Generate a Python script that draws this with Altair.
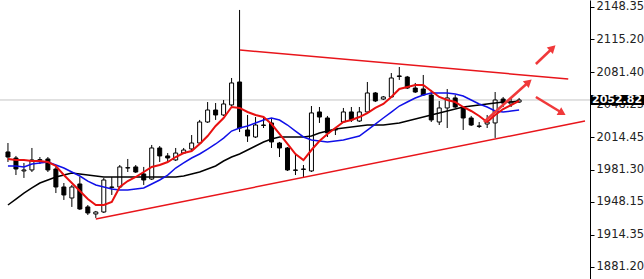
import math
import altair as alt
import pandas as pd

# ---- daily candles (oldest first) ----
opens = [1999.4, 1993.2, 1979.9, 1980.9, 1991.0, 1992.2, 1981.9, 1963.4, 1952.1, 1966.5,
         1942.9, 1935.7, 1937.7, 1963.4, 1963.4, 1982.9, 1984.0, 1976.8, 1971.6, 2003.5,
         1995.3, 1991.2, 1998.3, 2002.5, 2008.6, 2030.2, 2042.5, 2037.4, 2047.7, 2071.3,
         2022.0, 2014.8, 2027.1, 2029.2, 2008.6, 2003.5, 1980.9, 1981.9, 1979.9, 2040.5,
         2034.3, 2022.0, 2030.2, 2040.5, 2031.2, 2040.5, 2060.0, 2053.8, 2055.9, 2077.5,
         2076.4, 2065.1, 2064.1, 2057.9, 2030.2, 2044.6, 2054.9, 2045.6, 2034.3, 2026.1,
         2028.1, 2029.2, 2053.8, 2048.7, 2050.7]
highs = [2008.6, 1995.3, 1988.1, 2003.5, 1994.2, 1994.2, 1984.0, 1967.5, 1965.5, 1973.7,
         1944.9, 1938.8, 1972.7, 1973.7, 1986.0, 1992.2, 1986.0, 1984.0, 2006.6, 2005.5,
         1998.3, 2003.5, 2003.5, 2016.8, 2032.3, 2050.7, 2049.7, 2052.8, 2075.4, 2145.3,
         2037.4, 2035.3, 2034.3, 2034.3, 2009.7, 2004.5, 1996.3, 1986.0, 2046.6, 2045.6,
         2036.4, 2025.1, 2044.6, 2045.6, 2045.6, 2071.3, 2061.0, 2056.9, 2080.5, 2086.7,
         2077.5, 2070.3, 2078.5, 2063.1, 2051.8, 2064.1, 2057.9, 2046.6, 2036.4, 2030.2,
         2037.4, 2061.0, 2055.9, 2054.9, 2054.9]
lows = [1989.1, 1975.7, 1972.7, 1978.8, 1987.0, 1978.8, 1957.2, 1950.1, 1942.9, 1939.8,
        1934.6, 1931.6, 1936.7, 1955.2, 1962.4, 1978.8, 1977.8, 1965.5, 1970.6, 1989.1,
        1989.1, 1990.1, 1997.3, 2001.4, 2007.6, 2029.2, 2032.3, 2036.4, 2046.6, 2019.9,
        2009.7, 2013.8, 2024.0, 2003.5, 1994.2, 1979.9, 1975.7, 1973.7, 1978.8, 2029.2,
        2014.8, 2016.8, 2029.2, 2030.2, 2030.2, 2039.5, 2050.7, 2052.8, 2054.9, 2073.4,
        2064.1, 2060.0, 2056.9, 2030.2, 2027.1, 2024.0, 2044.6, 2022.0, 2026.1, 2024.0,
        2024.0, 2013.8, 2045.6, 2045.6, 2049.7]
closes = [1994.2, 1981.9, 1980.9, 1991.2, 1991.5, 1980.9, 1963.4, 1955.2, 1963.4, 1940.8,
          1936.7, 1937.7, 1970.6, 1963.0, 1984.0, 1983.3, 1978.8, 1970.6, 2003.5, 1995.3,
          1993.2, 1998.3, 2001.4, 2008.6, 2030.2, 2042.5, 2037.4, 2048.7, 2070.3, 2024.0,
          2015.8, 2027.1, 2026.7, 2009.7, 2003.5, 1980.9, 1980.5, 1981.5, 2039.5, 2035.3,
          2018.9, 2022.4, 2040.5, 2032.3, 2040.5, 2060.0, 2051.8, 2055.9, 2075.4, 2077.0,
          2065.1, 2061.0, 2057.9, 2032.3, 2044.6, 2054.9, 2045.6, 2034.3, 2027.1, 2025.7,
          2030.2, 2052.8, 2049.7, 2050.7, 2052.82]

# ---- moving averages as plotted ----
ma_fast = [1992.1, 1991.1, 1991.1, 1990.1, 1990.1, 1989.1, 1985.0, 1975.7, 1967.5, 1959.3,
           1951.0, 1944.9, 1944.9, 1948.0, 1963.4, 1969.5, 1973.7, 1978.8, 1984.0, 1986.0,
           1989.1, 1994.2, 1998.3, 2000.4, 2007.6, 2015.8, 2026.1, 2034.3, 2045.6, 2044.6,
           2040.5, 2037.4, 2035.3, 2028.1, 2017.9, 2007.6, 1997.3, 1991.1, 2001.4, 2010.6,
           2017.9, 2024.0, 2030.2, 2032.2, 2035.3, 2039.4, 2044.6, 2048.7, 2055.9, 2064.1,
           2066.1, 2068.2, 2068.2, 2062.0, 2055.9, 2052.8, 2050.7, 2045.6, 2041.5, 2036.4,
           2030.2, 2037.4, 2043.5, 2047.6, 2051.8]
ma_mid = [1985.0, 1985.0, 1984.0, 1987.0, 1988.1, 1989.1, 1986.0, 1982.9, 1978.8, 1974.7,
          1969.5, 1965.5, 1963.4, 1961.4, 1960.3, 1960.3, 1961.4, 1962.4, 1966.5, 1970.6,
          1975.7, 1982.9, 1988.1, 1993.2, 1997.3, 2002.4, 2007.6, 2013.7, 2020.9, 2024.0,
          2026.1, 2029.1, 2032.2, 2034.3, 2032.2, 2027.1, 2020.9, 2014.8, 2011.7, 2010.6,
          2009.6, 2010.6, 2011.7, 2013.7, 2015.8, 2021.9, 2028.1, 2034.3, 2040.4, 2046.6,
          2050.7, 2054.8, 2057.9, 2060.0, 2060.0, 2060.0, 2059.0, 2056.9, 2052.8, 2048.7,
          2045.6, 2041.5, 2040.4, 2041.5, 2042.5]
ma_slow = [1944.9, 1951.0, 1957.2, 1962.4, 1967.5, 1970.6, 1973.7, 1975.7, 1977.8, 1976.7,
           1975.7, 1974.7, 1973.7, 1973.7, 1973.7, 1973.7, 1973.7, 1973.7, 1973.7, 1973.7,
           1973.7, 1973.7, 1974.7, 1976.7, 1978.8, 1981.9, 1985.0, 1990.1, 1994.2, 1997.3,
           2001.4, 2005.5, 2009.6, 2012.7, 2014.8, 2014.8, 2014.8, 2014.8, 2015.8, 2018.9,
           2020.9, 2023.0, 2024.0, 2025.0, 2026.1, 2027.1, 2027.1, 2027.1, 2028.1, 2029.1,
           2031.2, 2033.2, 2035.3, 2037.4, 2039.4, 2041.5, 2043.5, 2045.6, 2046.6, 2047.6,
           2048.7, 2049.7, 2050.7, 2050.7, 2051.8]

# ---- price axis and last price ----
tick_values = [2148.35, 2115.20, 2081.40, 2048.25, 2014.45, 1981.30, 1948.15, 1914.35, 1881.20]
last_price = 2052.82

# ---- drawn trend lines: (bar index, price) endpoints ----
trend_i0 = [11.0, 29.05]
trend_p0 = [1930.5, 2104.2]
trend_i1 = [72.25, 70.15]
trend_p1 = [2031.2, 2074.4]

# ---- scenario arrows: start and tip ----
arrow_i0 = [66.1, 59.6, 66.1]
arrow_p0 = [2089.8, 2030.2, 2055.9]
arrow_i1 = [68.2, 65.2, 69.4]
arrow_p1 = [2106.2, 2071.3, 2039.4]

W, H = 590, 279
RIGHT_PAD = 54
X_DOM = [-0.37, 72.25]
Y_DOM = [1868.87, 2155.54]

n = len(opens)
candles = pd.DataFrame({
    "i": list(range(n)), "open": opens, "high": highs, "low": lows, "close": closes,
})
candles["up"] = candles["close"] >= candles["open"]

ma = pd.DataFrame({"i": list(range(n)), "fast": ma_fast, "mid": ma_mid, "slow": ma_slow})

trend_rows = []
for k in range(len(trend_i0)):
    trend_rows.append({"seg": k, "i": trend_i0[k], "v": trend_p0[k]})
    trend_rows.append({"seg": k, "i": trend_i1[k], "v": trend_p1[k]})
trend = pd.DataFrame(trend_rows)

px_per_i = W / (X_DOM[1] - X_DOM[0])
px_per_p = H / (Y_DOM[1] - Y_DOM[0])
arrow_rows, head_rows = [], []
for k in range(len(arrow_i0)):
    arrow_rows.append({"seg": k, "i": arrow_i0[k], "v": arrow_p0[k]})
    arrow_rows.append({"seg": k, "i": arrow_i1[k], "v": arrow_p1[k]})
    dx = (arrow_i1[k] - arrow_i0[k]) * px_per_i
    dy_up = (arrow_p1[k] - arrow_p0[k]) * px_per_p
    ang = math.degrees(math.atan2(dx, dy_up)) % 360
    head_rows.append({"i": arrow_i1[k], "v": arrow_p1[k], "ang": ang})
arrows = pd.DataFrame(arrow_rows)
heads = pd.DataFrame(head_rows)

last = pd.DataFrame({"v": [last_price], "lo": [last_price - 5.2], "hi": [last_price + 5.2],
                     "label": [f"{last_price:.2f}"]})

xscale = alt.Scale(domain=X_DOM, nice=False, zero=False)
yscale = alt.Scale(domain=Y_DOM, nice=False, zero=False)
yaxis = alt.Axis(
    orient="right", values=tick_values, format=".2f", grid=False, title=None,
    domainColor="#000000", domainWidth=1, tickColor="#000000", tickSize=4,
    labelPadding=2, labelFont="DejaVu Sans", labelFontSize=11.5, labelColor="#222222",
    labelFlush=False, labelOverlap=False,
)


def X(field="i"):
    return alt.X(f"{field}:Q", scale=xscale, axis=None)


def Y(field):
    return alt.Y(f"{field}:Q", scale=yscale, axis=yaxis)


price_line = alt.Chart(last).mark_rule(color="#c4c4c4", strokeWidth=1).encode(y=Y("v"))

wicks = alt.Chart(candles).mark_rule(color="#000000", strokeWidth=1).encode(
    x=X(), y=Y("low"), y2="high:Q"
)
bodies = alt.Chart(candles).mark_bar(size=4, stroke="#000000", strokeWidth=1).encode(
    x=X(), y=Y("open"), y2="close:Q",
    fill=alt.Fill("up:N", scale=alt.Scale(domain=[True, False], range=["#ffffff", "#000000"]),
                  legend=None),
)

slow_line = alt.Chart(ma).mark_line(color="#000000", strokeWidth=1.5).encode(x=X(), y=Y("slow"))
mid_line = alt.Chart(ma).mark_line(color="#1010e8", strokeWidth=1.5).encode(x=X(), y=Y("mid"))
fast_line = alt.Chart(ma).mark_line(color="#e81010", strokeWidth=2).encode(x=X(), y=Y("fast"))

trend_lines = alt.Chart(trend).mark_line(color="#e8151b", strokeWidth=1.5).encode(
    x=X(), y=Y("v"), detail="seg:N"
)
arrow_lines = alt.Chart(arrows).mark_line(color="#f0393a", strokeWidth=2.5).encode(
    x=X(), y=Y("v"), detail="seg:N"
)
arrow_heads = alt.Chart(heads).mark_point(
    shape="triangle-up", filled=True, color="#f0393a", size=80, opacity=1
).encode(x=X(), y=Y("v"), angle=alt.Angle("ang:Q", scale=None))

label_box = alt.Chart(last).mark_rect(color="#000000").encode(
    x=alt.value(W + 1), x2=alt.value(W + RIGHT_PAD + 2), y=Y("lo"), y2="hi:Q"
)
label_text = alt.Chart(last).mark_text(
    align="left", baseline="middle", color="#ffffff", font="DejaVu Sans",
    fontSize=11, fontWeight="bold"
).encode(x=alt.value(W + 2), y=Y("v"), text="label:N")

chart = alt.layer(
    price_line, wicks, bodies, slow_line, mid_line, fast_line,
    trend_lines, arrow_lines, arrow_heads, label_box, label_text,
).properties(
    width=W, height=H,
    padding={"left": 0, "top": 0, "right": RIGHT_PAD, "bottom": 0},
    autosize=alt.AutoSizeParams(type="none"),
    background="#ffffff",
).configure_view(stroke=None)

chart.save("out.html", embed_options={"renderer": "svg", "actions": False})
